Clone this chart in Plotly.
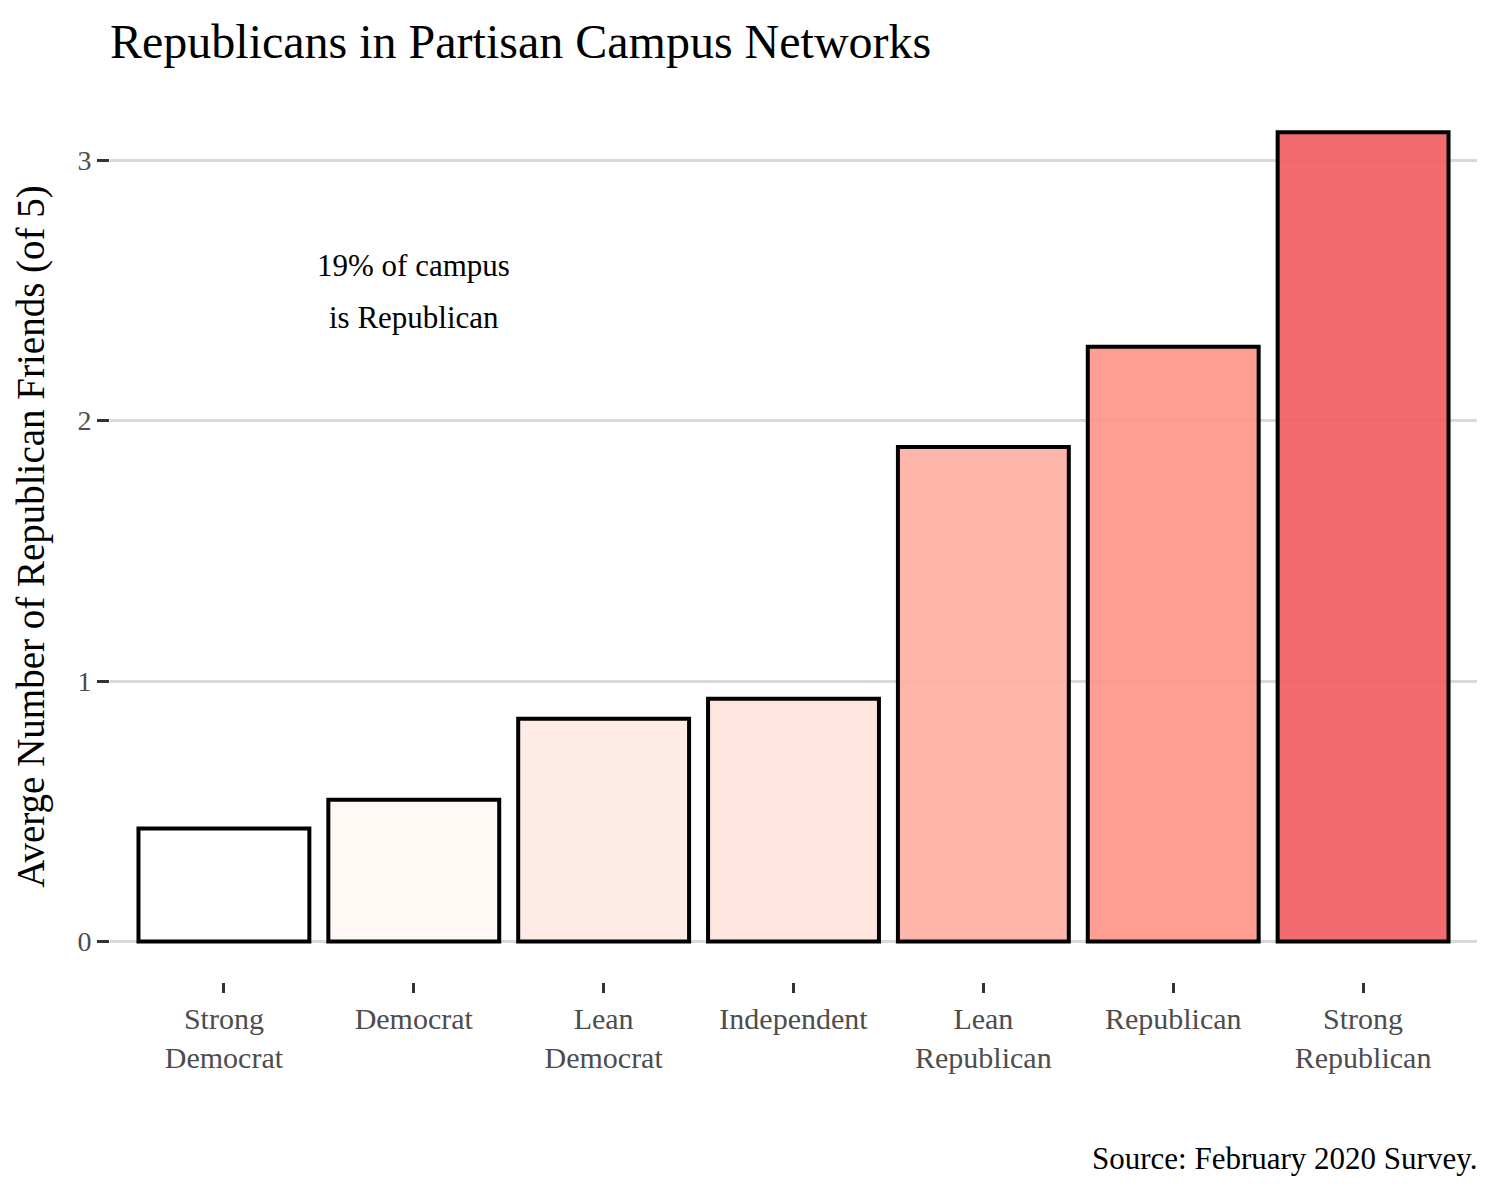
import plotly.graph_objects as go

categories = ["Strong<br>Democrat", "Democrat", "Lean<br>Democrat", "Independent",
              "Lean<br>Republican", "Republican", "Strong<br>Republican"]
values = [0.434, 0.545, 0.855, 0.932, 1.899, 2.283, 3.107]
fill_colors = ["rgba(255,255,255,0.9)", "rgba(255,247,243,0.9)", "rgba(254,233,226,0.9)",
               "rgba(254,227,220,0.9)", "rgba(254,173,161,0.9)", "rgba(254,148,135,0.9)",
               "rgba(241,91,94,0.9)"]
y_ticks = [0, 1, 2, 3]

title_text = "Republicans in Partisan Campus Networks"
y_title = "Averge Number of Republican Friends (of 5)"
note_lines = ["19% of campus", "is Republican"]
note_y = [2.597, 2.394]
caption_text = "Source: February 2020 Survey."

FONT = "Liberation Serif"

x_idx = list(range(len(categories)))

fig = go.Figure()
fig.add_trace(go.Bar(
    x=x_idx, y=values, width=0.9,
    marker=dict(color=fill_colors, line=dict(color="black", width=4)),
    hoverinfo="skip",
))

for txt, yy in zip(note_lines, note_y):
    fig.add_annotation(x=1, y=yy, xref="x", yref="y", text=txt, showarrow=False,
                       font=dict(family=FONT, size=31, color="black"), align="center")
fig.add_annotation(x=1, y=0, xref="paper", yref="paper", text=caption_text, showarrow=False,
                   xanchor="right", yanchor="middle", yshift=-176, xshift=2,
                   font=dict(family=FONT, size=31, color="black"))

fig.update_layout(
    width=1500, height=1200,
    margin=dict(l=102, r=31, t=83, b=226),
    paper_bgcolor="white", plot_bgcolor="white",
    showlegend=False,
    title=dict(text=title_text, x=102/1500, xanchor="left", y=1-33/1200, yanchor="middle",
               font=dict(family=FONT, size=48, color="black")),
    font=dict(family=FONT),
    bargap=0.1,
)
fig.update_xaxes(
    range=[-0.6, 6.6], tickmode="array", tickvals=x_idx, ticktext=categories,
    showgrid=False, zeroline=False, showline=False,
    ticks="outside", ticklen=10, tickwidth=3, tickcolor="#333333",
    tickfont=dict(family=FONT, size=30, color="#4D4D4D"),
)
fig.update_yaxes(
    range=[-0.155, 3.265], tickmode="array", tickvals=y_ticks,
    showgrid=True, gridcolor="#D9D9D9", gridwidth=3, zeroline=False, showline=False,
    ticks="outside", ticklen=12, tickwidth=3, tickcolor="#333333",
    tickfont=dict(family=FONT, size=28, color="#4D4D4D"),
    title=dict(text=y_title, font=dict(family=FONT, size=39, color="black"), standoff=20),
)

fig.write_html("out.html")
